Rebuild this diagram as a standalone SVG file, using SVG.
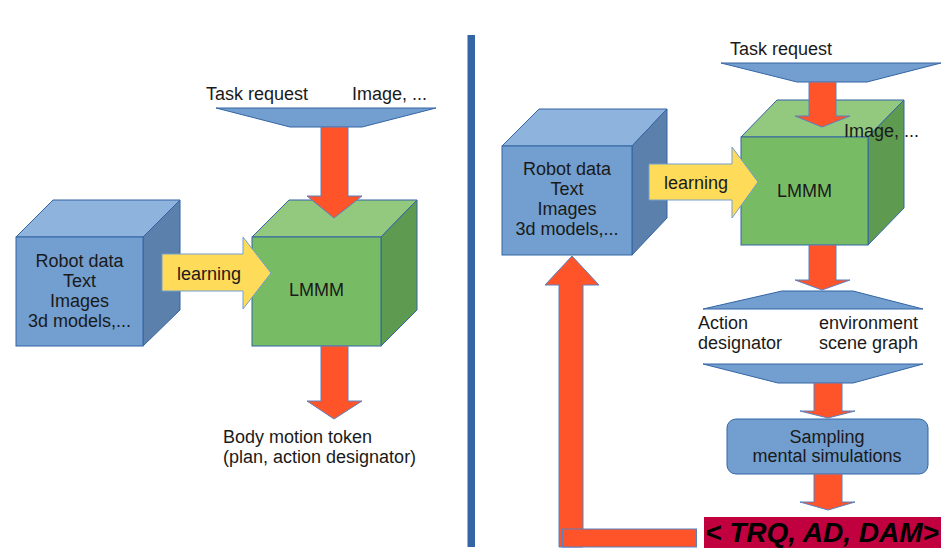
<svg xmlns="http://www.w3.org/2000/svg" width="947" height="560" viewBox="0 0 947 560">
<style>
text{font-family:"Liberation Sans",Arial,sans-serif;font-size:18px;fill:#1a1a1a}
.bf{fill:#729fcf;stroke:#3465a4;stroke-width:1}
.bt{fill:#8eb3dd;stroke:#3465a4;stroke-width:1}
.bs{fill:#5b80ab;stroke:#3465a4;stroke-width:1}
.gf{fill:#77bc65;stroke:#3465a4;stroke-width:1}
.gt{fill:#92c97f;stroke:#3465a4;stroke-width:1}
.gs{fill:#5e9a50;stroke:#3465a4;stroke-width:1}
.red{fill:#ff5429;stroke:#5b80c0;stroke-width:1}
.yel{fill:#ffdb5a;stroke:#729fcf;stroke-width:1}
.trap{fill:#729fcf;stroke:#3465a4;stroke-width:1}
.c{text-anchor:middle}
</style>
<rect width="947" height="560" fill="#ffffff"/>
<rect id="divider" x="467.5" y="35" width="7.5" height="512" fill="#3465a4"/>

<g id="left-input-trapezoid">
<polygon class="trap" points="216,108 436,108 362,127 290,127"/>
<text x="206" y="100">Task request</text>
<text x="352" y="100">Image, ...</text>
</g>

<g id="left-data-cube">
<polygon class="bt" points="16,237 53,200 180,200 143,237"/>
<polygon class="bs" points="143,237 180,200 180,310 143,346"/>
<rect class="bf" x="16" y="237" width="127" height="109"/>
<text class="c" x="79.5" y="267">Robot data</text>
<text class="c" x="79.5" y="287">Text</text>
<text class="c" x="79.5" y="307">Images</text>
<text class="c" x="79.5" y="327">3d models,...</text>
</g>

<g id="left-lmmm-cube">
<polygon class="gt" points="252,237 289,200 417,200 381,237"/>
<polygon class="gs" points="381,237 417,200 417,310 381,346"/>
<rect class="gf" x="252" y="237" width="129" height="109"/>
<text class="c" x="316.5" y="296">LMMM</text>
</g>

<g id="left-output">
<text x="223" y="443">Body motion token</text>
<text x="223" y="463">(plan, action designator)</text>
</g>

<g id="right-input-trapezoid">
<polygon class="trap" points="721,63 941,63 867,82 797,82"/>
<text x="730" y="55">Task request</text>
</g>

<g id="right-data-cube">
<polygon class="bt" points="502,146 539,109 667,109 632,146"/>
<polygon class="bs" points="632,146 667,109 667,218 632,255"/>
<rect class="bf" x="502" y="146" width="130" height="109"/>
<text class="c" x="567" y="175">Robot data</text>
<text class="c" x="567" y="195">Text</text>
<text class="c" x="567" y="215">Images</text>
<text class="c" x="567" y="235">3d models,...</text>
</g>

<g id="right-lmmm-cube">
<polygon class="gt" points="741,137 777,100 904,100 868,137"/>
<polygon class="gs" points="868,137 904,100 904,208 868,245"/>
<rect class="gf" x="741" y="137" width="127" height="108"/>
<text class="c" x="804.5" y="197">LMMM</text>
<text x="844" y="137">Image, ...</text>
</g>

<g id="right-designator-trapezoids">
<polygon class="trap" points="782,291 853,291 923,309 703,309"/>
<polygon class="trap" points="703,364 923,364 853,383 778,383"/>
<text x="698" y="329">Action</text>
<text x="698" y="349">designator</text>
<text x="819" y="329">environment</text>
<text x="819" y="349">scene graph</text>
</g>

<g id="sampling">
<rect class="trap" x="727" y="419" width="201" height="55" rx="9"/>
<text class="c" x="827" y="443">Sampling</text>
<text class="c" x="827" y="462">mental simulations</text>
</g>

<g id="tuple">
<rect x="704" y="517" width="237" height="31" fill="#c0003f"/>
<text x="705" y="542" style="font-size:28px;font-weight:bold;font-style:italic;fill:#000">&lt; TRQ, AD, DAM&gt;</text>
</g>

<g id="connectors">
<polygon class="red" points="321,127 348,127 348,196 362,196 334,218 307,196 321,196"/>
<polygon class="red" points="321,346 348,346 348,401 362,401 334,419 307,401 321,401"/>
<polygon class="yel" points="162,254 243,254 243,237 271,273 243,309 243,291 162,291"/>
<text x="177" y="280">learning</text>
<polygon class="yel" points="649,164 732,164 732,147 758,182 732,218 732,200 649,200"/>
<text x="664" y="189">learning</text>
<polygon class="red" points="809,82 836,82 836,116 850,116 822,127 795,116 809,116"/>
<polygon class="red" points="809,245 836,245 836,280 850,280 822,290 795,280 809,280"/>
<polygon class="red" points="814,383 842,383 842,411 855,411 828,418 800,411 814,411"/>
<polygon class="red" points="814,474 842,474 842,502 855,502 828,510 800,502 814,502"/>
<polygon class="red" points="559,547 559,285 545,285 572,256 599,285 583,285 583,547"/>
<rect class="red" x="562.5" y="529" width="134" height="18"/>
</g>
</svg>
